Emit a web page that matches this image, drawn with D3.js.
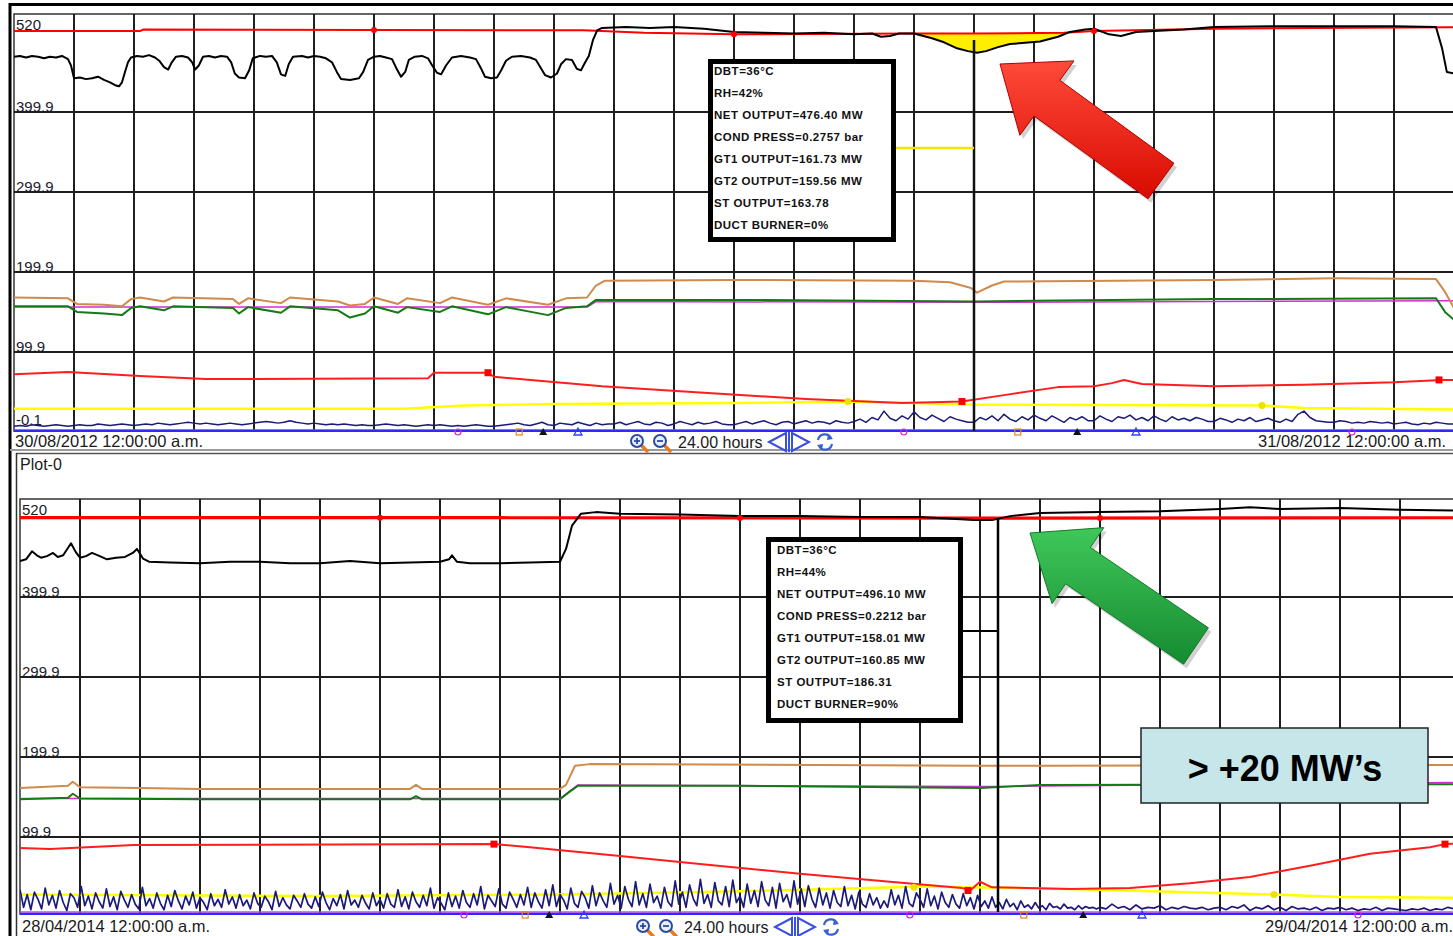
<!DOCTYPE html>
<html><head><meta charset="utf-8">
<script src="https://cdn.jsdelivr.net/npm/d3@7"></script>
<style>body{margin:0;background:#fff;overflow:hidden}svg{display:block}</style>
</head><body>
<svg id="c" width="1453" height="936"></svg>
<script>
// ---------------- DATA ----------------
const yTickValues = [-0.1, 99.9, 199.9, 299.9, 399.9, 520];
const yTickLabels = ["-0.1", "99.9", "199.9", "299.9", "399.9", "520"];
const hourTicks = d3.range(0, 25);
const topDates = ["30/08/2012 12:00:00 a.m.", "31/08/2012 12:00:00 a.m."];
const bottomDates = ["28/04/2014 12:00:00 a.m.", "29/04/2014 12:00:00 a.m."];
const spanLabel = "24.00 hours";
const plotName = "Plot-0";
const infoTop = ["DBT=36°C", "RH=42%", "NET OUTPUT=476.40 MW", "COND PRESS=0.2757 bar", "GT1 OUTPUT=161.73 MW", "GT2 OUTPUT=159.56 MW", "ST OUTPUT=163.78", "DUCT BURNER=0%"];
const infoBottom = ["DBT=36°C", "RH=44%", "NET OUTPUT=496.10 MW", "COND PRESS=0.2212 bar", "GT1 OUTPUT=158.01 MW", "GT2 OUTPUT=160.85 MW", "ST OUTPUT=186.31", "DUCT BURNER=90%"];
const calloutText = "> +20 MW\u2019s";
const topCursorHour = 16;
const bottomCursorHour = 16.3;

// top panel series [hour, value]
const topBlack = [[0,469],[0.1,470],[0.2,468],[0.3,470],[0.4,469],[0.5,467],[0.6,469],[0.7,468],[0.8,470],[0.9,466],[0.95,458],[1.0,442],[1.1,443],[1.2,441],[1.3,442],[1.4,444],[1.5,440],[1.6,437],[1.7,433],[1.75,432],[1.8,437],[1.85,450],[1.9,462],[1.95,468],[2.05,470],[2.15,469],[2.25,471],[2.35,468],[2.42,464],[2.5,456],[2.57,453],[2.63,462],[2.7,469],[2.8,470],[2.9,468],[2.97,462],[3.02,453],[3.08,458],[3.15,469],[3.25,470],[3.35,468],[3.45,470],[3.55,469],[3.62,462],[3.68,448],[3.75,443],[3.85,442],[3.92,452],[3.98,467],[4.1,470],[4.2,469],[4.3,470],[4.38,462],[4.45,447],[4.52,445],[4.58,460],[4.65,469],[4.8,470],[4.9,468],[5.0,470],[5.1,469],[5.2,467],[5.3,462],[5.38,450],[5.45,441],[5.6,440],[5.75,442],[5.82,450],[5.9,465],[6.0,469],[6.1,470],[6.2,468],[6.3,466],[6.37,455],[6.45,444],[6.52,450],[6.58,465],[6.68,469],[6.8,470],[6.9,467],[6.97,458],[7.05,449],[7.12,447],[7.2,458],[7.3,468],[7.45,470],[7.6,468],[7.7,466],[7.78,455],[7.85,444],[7.95,442],[8.05,443],[8.12,452],[8.2,464],[8.3,469],[8.45,470],[8.6,468],[8.7,465],[8.78,455],[8.85,446],[8.95,443],[9.05,448],[9.12,460],[9.2,466],[9.3,465],[9.38,454],[9.45,452],[9.52,462],[9.58,470],[9.65,490],[9.72,502],[9.8,505],[10.2,506],[10.6,505],[11,506],[11.5,504],[12,500],[12.5,499],[13,498],[13.5,499],[14,497],[14.3,498],[14.45,494],[14.6,495],[14.75,498],[15.0,498],[15.3,492],[15.5,487],[15.7,480],[15.9,476],[16.05,474],[16.2,476],[16.4,481],[16.6,485],[16.8,486],[17.1,488],[17.4,494],[17.6,500],[17.85,503],[18.0,504],[18.25,497],[18.45,495],[18.7,500],[19.0,501],[19.5,503],[20,506],[21,507],[22,507],[23,507],[23.7,506],[23.8,480],[23.88,450],[24,448]];
const topRed = [[0,501],[2.1,501],[2.15,503],[9.5,502],[10.5,499],[12,497],[15,498],[16,498],[17.5,499],[18,501],[20,504],[24,506]];
const topOrange = [[0,168],[0.9,167],[1.05,160],[1.5,159],[1.8,157],[1.95,166],[2.1,168],[2.5,163],[2.65,168],[3.65,166],[3.75,160],[3.9,167],[4.45,161],[4.6,168],[5.4,163],[5.6,158],[5.85,160],[6.0,168],[6.4,160],[6.55,167],[7.1,161],[7.3,168],[7.9,159],[8.2,167],[8.9,159],[9.2,167],[9.55,168],[9.7,183],[9.85,189],[12,190],[15,189],[15.6,187],[15.95,180],[16.05,174],[16.3,183],[16.5,188],[20,190],[22,192],[23.7,191],[23.85,175],[24,155]];
const topGreen = [[0,157],[0.9,157],[1.05,150],[1.5,148],[1.8,146],[1.95,155],[2.1,157],[2.5,152],[2.65,157],[3.65,155],[3.75,148],[3.9,156],[4.45,149],[4.6,157],[5.4,152],[5.6,143],[5.85,148],[6.0,157],[6.4,149],[6.55,156],[7.1,150],[7.3,157],[7.9,147],[8.2,156],[8.9,146],[9.2,155],[9.55,157],[9.7,165],[12,165],[16,163],[17,164],[20,166],[23.7,167],[23.85,150],[24,140]];
const topMagenta = [[0,156],[9.55,156],[9.7,163],[16,162],[24,164]];
const topRedLow = [[0,72],[0.9,75],[2.1,70],[3.2,66],[6.9,67],[7.0,74],[7.9,74],[8.0,69],[9.8,57],[11.5,49],[13.2,41],[14.8,36],[15.8,38],[16.5,46],[17.4,56],[18.0,57],[18.3,61],[18.5,65],[18.8,60],[20,57],[21.5,59],[23,62],[23.8,65],[24,65]];
const topYellow = [[0,29],[6.5,29],[7.5,33],[9,35],[12,36],[13.9,38],[15,36],[16,34],[20.8,33],[21.5,30],[24,28]];
const topNavy = [7,8,7,9,8,7,8,9,8,7,8,9,8,8,10,9,8,9,10,9,
 8,9,10,9,11,10,9,10,11,12,11,10,11,10,9,10,11,10,9,10,
 11,12,13,12,11,12,14,12,11,10,11,10,9,10,9,10,9,8,9,8,
 8,9,10,9,8,9,8,7,8,9,8,9,8,7,8,7,8,9,8,7,
 7,8,9,10,11,9,8,10,12,9,8,11,10,9,12,10,8,11,9,10,
 10,12,9,11,13,10,9,12,11,8,10,13,11,9,12,10,11,13,10,9,
 9,11,13,10,12,14,11,9,12,13,10,12,14,11,13,12,10,14,12,11,
 13,16,12,18,15,26,17,14,20,16,25,18,15,21,17,13,19,16,14,12,
 12,18,15,20,14,22,16,13,19,15,21,17,14,20,16,12,18,15,19,14,
 14,20,16,13,19,17,21,15,18,14,20,16,13,19,15,17,14,18,16,13,
 13,17,15,12,16,14,18,13,15,17,14,12,16,13,22,26,18,14,13,12,
 12,14,13,11,12,11,13,12,11,12,10,11,12,10,9,11,10,12,11,10,10];
const topNavyHours = [0, 24];
const topBlue = [[0,1],[24,1]];
const topPink = [[0,2.5],[24,2.5]];

// bottom panel series
const botBlack = [[0,445],[0.1,447],[0.2,457],[0.28,452],[0.35,449],[0.45,451],[0.55,455],[0.63,450],[0.72,452],[0.85,467],[0.93,456],[1.0,449],[1.1,451],[1.2,455],[1.3,452],[1.45,447],[1.6,449],[1.75,450],[1.88,455],[1.95,460],[2.05,448],[2.15,444],[2.5,443],[3,442],[3.5,444],[4,444],[4.5,442],[5,442],[5.5,445],[6,442],[6.5,443],[7,444],[7.15,447],[7.2,452],[7.28,444],[7.5,442],[8,442],[8.5,443],[9,444],[9.1,460],[9.2,489],[9.35,504],[9.6,506],[10,504],[11,503],[12,501],[13,501],[14,500],[15,500],[15.9,496],[16.2,496],[16.5,501],[17,505],[18,506],[19,507],[20,510],[20.5,512],[21,510],[22,511],[23,509],[24,508]];
const botRed = [[0,499],[8,499],[16,498.5],[24,499]];
const botOrange = [[0,161],[0.8,164],[0.88,169],[1.0,162],[2,161],[3,160],[6.5,160],[6.6,165],[6.7,160],[9.0,160],[9.1,165],[9.25,189],[9.5,191],[16,189],[17,189],[24,190]];
const botGreen = [[0,147],[0.8,149],[0.88,154],[1.0,148],[3,147],[6.5,147],[6.6,151],[6.7,147],[9.0,147],[9.15,156],[9.3,164],[12,164],[16,161],[17,165],[24,166]];
const botMagenta = [[0,148],[9.0,148],[9.3,165],[16,163],[24,168]];
const botRedLow = [[0,86],[0.5,85],[1.9,90],[7.9,91],[8.5,87],[10,76],[11.5,65],[13,54],[14.5,44],[15.7,36],[15.85,34],[16.0,44],[16.2,37],[17.5,35],[18.5,36],[19.5,42],[20.5,50],[21.5,64],[22.5,79],[23.5,87],[23.75,91],[24,92]];
const botYellow = [[0,28],[5,26],[9,28],[12,32],[14.6,37],[15,38],[17.5,35],[20.9,28],[22,25],[24,24]];
const botNavyDense = [34,12,28,9,31,22,10,36,15,27,11,33,18,8,29,24,12,38,14,26,
 10,30,19,11,35,13,25,9,32,21,12,28,16,10,37,14,23,11,30,17,
 9,27,13,33,20,10,26,15,31,11,24,18,9,29,14,22,12,34,16,25,
 11,28,14,21,10,30,17,12,26,19,9,32,13,24,15,10,27,20,12,29,
 16,11,25,13,31,18,9,23,14,28,10,33,15,21,12,27,17,10,30,14,
 22,11,29,16,12,34,13,25,10,31,19,12,27,14,36,11,24,17,9,30,
 13,26,11,33,18,12,29,15,38,10,27,20,13,35,16,11,31,22,12,28,
 15,37,12,30,19,11,34,14,40,13,28,21,10,36,17,12,32,24,11,39,
 14,30,20,12,42,16,27,11,38,22,13,44,15,29,12,41,18,26,11,37,
 19,13,45,16,31,12,40,23,14,47,17,28,12,43,20,15,38,13,46,18,
 26,12,41,17,33,13,44,21,14,37,11,42,19,28,12,45,16,35,13,39,
 22,12,36,15,30,11,33,18,13,38,14,27,10,31,16,12,29,15,24,11,
 20,12,34,15,27,11,38,17,13,30,22,12,35,14,26,10,31,18,12,28,
 16,11,29,14,24,10,27,13,20,11,25,12,18,10,22,13,17,9,20,12,
 15,10,18,11,14,9,17,12,13,10,16,11,12,9,14,10,13,11,12,10,12];
const botNavyDenseHours = [0, 18];
const botNavyCalm = [14,10,16,11,13,9,15,10,12,11,14,9,12,10,13,11,10,12,9,11,
 12,9,13,11,15,8,12,10,14,9,12,8,13,10,11,9,12,8,11,10,
 12,9,11,8,10,9,12,8,11,10,9,8,10,9,11,8,10,9,12,10,10];
const botNavyCalmHours = [18, 24];
const botBlue = [[0,3.5],[24,3.5]];
const botPink = [[0,6],[24,6]];

// marker positions
const redDotHours = [6, 12, 18];
const redLowSquareTop = [[7.9,74],[15.8,38],[23.75,65]];
const redLowSquareBot = [[7.9,91],[15.8,33],[23.75,91]];
const yellowDotTop = [[13.9,38],[20.8,33]];
const yellowDotBot = [[14.9,37],[20.9,28]];
const axisOrange = [8.42, 16.73];
const axisBlack = [8.82, 17.72];
const axisBlue = [9.4, 18.7];
const axisMagenta = [7.4, 14.83, 22.3];

// ---------------- DRAW ----------------
const svg = d3.select("#c");
const defs = svg.append("defs");

function gradient(id, c1, c2) {
  const g = defs.append("linearGradient").attr("id", id).attr("x1", "0").attr("y1", "0").attr("x2", "0").attr("y2", "1");
  g.append("stop").attr("offset", "0").attr("stop-color", c1);
  g.append("stop").attr("offset", "1").attr("stop-color", c2);
}
gradient("redG", "#ff4a3a", "#d80a00");
gradient("greenG", "#3fc85a", "#168a30");

// frame
svg.append("line").attr("x1", 10).attr("x2", 10).attr("y1", 3).attr("y2", 936).attr("stroke", "#000").attr("stroke-width", 3);
svg.append("line").attr("x1", 9).attr("x2", 1453).attr("y1", 4.5).attr("y2", 4.5).attr("stroke", "#000").attr("stroke-width", 3);
svg.append("line").attr("x1", 10).attr("x2", 1453).attr("y1", 450).attr("y2", 450).attr("stroke", "#9a9a9a").attr("stroke-width", 2);
svg.append("line").attr("x1", 16).attr("x2", 1453).attr("y1", 453.5).attr("y2", 453.5).attr("stroke", "#555").attr("stroke-width", 1.5);
svg.append("line").attr("x1", 16.5).attr("x2", 16.5).attr("y1", 453).attr("y2", 936).attr("stroke", "#333").attr("stroke-width", 1.5);

const uniform = (vals, h) => vals.map((v, i) => [h[0] + i * (h[1] - h[0]) / (vals.length - 1), v]);

const panels = [
  {id: "top", x0: 14, yBottom: 432, plotTop: 14, plotBottom: 431, labelX: 16,
   black: topBlack, red: topRed, redW: 2, orange: topOrange, green: topGreen, magenta: topMagenta,
   redLow: topRedLow, yellow: topYellow, navy: [uniform(topNavy, topNavyHours)], navyW: 1.5, blue: topBlue, pink: topPink,
   squares: redLowSquareTop, ydots: yellowDotTop, dates: topDates, dateY: 447, dateX: 15, rightDateX: 1258,
   toolX: 630, toolY: 442, showMinus: true, fill: true},
  {id: "bot", x0: 20, yBottom: 917, plotTop: 499, plotBottom: 914, labelX: 22,
   black: botBlack, red: botRed, redW: 3.2, orange: botOrange, green: botGreen, magenta: botMagenta,
   redLow: botRedLow, yellow: botYellow, navy: [uniform(botNavyDense, botNavyDenseHours).concat(uniform(botNavyCalm, botNavyCalmHours).slice(1))], navyW: 1.7, blue: botBlue, pink: botPink,
   squares: redLowSquareBot, ydots: yellowDotBot, dates: bottomDates, dateY: 932, dateX: 22, rightDateX: 1265,
   toolX: 636, toolY: 927, showMinus: false, fill: false}
];

const textFont = "'Liberation Sans', Arial, sans-serif";

panels.forEach(p => {
  const x = d3.scaleLinear().domain([0, 24]).range([p.x0, p.x0 + 1440]);
  const y = d3.scaleLinear().domain([-0.1, 520]).range([p.yBottom, p.yBottom - 520.1 * 0.8]);
  p.x = x; p.y = y;
  const g = svg.append("g");
  g.append("rect").attr("x", p.x0).attr("y", p.plotTop).attr("width", 1460).attr("height", p.plotBottom - p.plotTop)
    .attr("fill", "#fff").attr("stroke", "#333").attr("stroke-width", 1.5);

  defs.append("clipPath").attr("id", "clip-" + p.id).append("rect")
    .attr("x", p.x0).attr("y", p.plotTop).attr("width", 1440).attr("height", p.plotBottom - p.plotTop + 1);

  // grid
  const grid = g.append("g");
  grid.selectAll("line.v").data(hourTicks.slice(1)).join("line")
    .attr("x1", d => x(d)).attr("x2", d => x(d)).attr("y1", p.plotTop).attr("y2", p.plotBottom)
    .attr("stroke", "#1e1e1e").attr("stroke-width", 2);
  grid.selectAll("line.h").data(yTickValues.slice(1, 5)).join("line")
    .attr("x1", p.x0).attr("x2", 1453).attr("y1", d => y(d)).attr("y2", d => y(d))
    .attr("stroke", "#1e1e1e").attr("stroke-width", 1.8);

  // y labels
  yTickValues.forEach((v, i) => {
    if (v === -0.1 && !p.showMinus) return;
    let by = y(v) - 0.5;
    if (v === 520) by = y(v) + 14;
    if (v === -0.1) by = y(v) - 7;
    g.append("text").attr("x", p.labelX).attr("y", by).text(yTickLabels[i])
      .attr("font-family", textFont).attr("font-size", 15).attr("fill", "#1a1a2a");
  });

  const data = g.append("g").attr("clip-path", `url(#clip-${p.id})`);
  const line = d3.line().x(d => x(d[0])).y(d => y(d[1]));

  const redAt = d3.scaleLinear().domain(p.red.map(d => d[0])).range(p.red.map(d => d[1]));
  if (p.fill) {
    const seg = p.black.filter(d => d[0] >= 14.9 && d[0] <= 17.7);
    data.append("path").datum(seg)
      .attr("d", d3.area().x(d => x(d[0])).y0(d => y(redAt(d[0]))).y1(d => y(Math.min(d[1], redAt(d[0])))))
      .attr("fill", "#ffee00");
  }

  const draw = (pts, color, w) => data.append("path").datum(pts).attr("d", line)
    .attr("fill", "none").attr("stroke", color).attr("stroke-width", w).attr("stroke-linejoin", "round");

  draw(p.pink, "#e040e0", 1.5);
  draw(p.blue, "#2b2bff", 2.5);
  draw(p.yellow, "#ffff00", 2.5);
  p.navy.forEach(n => draw(n, "#1a1a78", p.navyW));
  draw(p.redLow, "#ff1e1e", 2);
  draw(p.magenta, "#d030d0", 1.5);
  draw(p.green, "#147a14", 2);
  draw(p.orange, "#cf8a4c", 2);
  draw(p.red, "#ff0000", p.redW);
  draw(p.black, "#000", 2);

  // line markers
  data.selectAll("circle.rd").data(redDotHours).join("circle")
    .attr("cx", d => x(d)).attr("cy", d => y(redAt(d))).attr("r", 3).attr("fill", "#ff0000");
  data.selectAll("rect.sq").data(p.squares).join("rect")
    .attr("x", d => x(d[0]) - 3.5).attr("y", d => y(d[1]) - 3.5).attr("width", 7).attr("height", 7).attr("fill", "#ff0000");
  data.selectAll("circle.yd").data(p.ydots).join("circle")
    .attr("cx", d => x(d[0])).attr("cy", d => y(d[1])).attr("r", 3.5).attr("fill", "#f0e000");

  // axis markers
  const my = p.plotBottom + 1;
  const mk = g.append("g");
  axisOrange.forEach(h => mk.append("rect").attr("x", x(h) - 3).attr("y", my - 3).attr("width", 6).attr("height", 6)
    .attr("fill", "none").attr("stroke", "#f08020").attr("stroke-width", 1.2));
  axisBlack.forEach(h => mk.append("path").attr("d", `M${x(h) - 4},${my + 3}L${x(h) + 4},${my + 3}L${x(h)},${my - 4}Z`).attr("fill", "#111"));
  axisBlue.forEach(h => mk.append("path").attr("d", `M${x(h) - 4},${my + 3}L${x(h) + 4},${my + 3}L${x(h)},${my - 4}Z`)
    .attr("fill", "none").attr("stroke", "#3040ff").attr("stroke-width", 1.3));
  axisMagenta.forEach(h => mk.append("circle").attr("cx", x(h)).attr("cy", my).attr("r", 3)
    .attr("fill", "none").attr("stroke", "#e020e0").attr("stroke-width", 1.2));

  // dates
  g.append("text").attr("x", p.dateX).attr("y", p.dateY).text(p.dates[0])
    .attr("font-family", textFont).attr("font-size", 16.5).attr("fill", "#1a1a1a");
  g.append("text").attr("x", p.rightDateX).attr("y", p.dateY).text(p.dates[1])
    .attr("font-family", textFont).attr("font-size", 16.5).attr("fill", "#1a1a1a");

  // toolbar
  const t = g.append("g").attr("transform", `translate(${p.toolX},${p.toolY})`);
  [0, 23].forEach((dx, k) => {
    const m = t.append("g").attr("transform", `translate(${dx},0)`);
    m.append("line").attr("x1", 10).attr("y1", 2).attr("x2", 17).attr("y2", 9).attr("stroke", "#e87a20").attr("stroke-width", 3.5).attr("stroke-linecap", "round");
    m.append("circle").attr("cx", 7).attr("cy", -1).attr("r", 6).attr("fill", "#e6eeff").attr("stroke", "#2c4aa0").attr("stroke-width", 2);
    m.append("line").attr("x1", 4).attr("x2", 10).attr("y1", -1).attr("y2", -1).attr("stroke", "#2c4aa0").attr("stroke-width", 1.8);
    if (k === 0) m.append("line").attr("x1", 7).attr("x2", 7).attr("y1", -4).attr("y2", 2).attr("stroke", "#2c4aa0").attr("stroke-width", 1.8);
  });
  t.append("text").attr("x", 48).attr("y", 6).text(spanLabel).attr("font-family", textFont).attr("font-size", 16).attr("fill", "#1a1a1a");
  t.append("path").attr("d", "M139,0L156,-9L156,9Z").attr("fill", "#fff").attr("stroke", "#3a50e0").attr("stroke-width", 2);
  t.append("line").attr("x1", 159).attr("x2", 159).attr("y1", -10).attr("y2", 10).attr("stroke", "#3a50e0").attr("stroke-width", 2);
  t.append("path").attr("d", "M162,-9L179,0L162,9Z").attr("fill", "#fff").attr("stroke", "#3a50e0").attr("stroke-width", 2);
  const r = t.append("g").attr("transform", "translate(195,0)");
  r.append("path").attr("d", "M-7,-2A7,7 0 0 1 6,-4").attr("fill", "none").attr("stroke", "#3a60d0").attr("stroke-width", 2.2);
  r.append("path").attr("d", "M7,2A7,7 0 0 1 -6,4").attr("fill", "none").attr("stroke", "#3a60d0").attr("stroke-width", 2.2);
  r.append("path").attr("d", "M3,-8L8,-3L2,-2Z").attr("fill", "#3a60d0");
  r.append("path").attr("d", "M-3,8L-8,3L-2,2Z").attr("fill", "#3a60d0");
});

// Plot-0 label
svg.append("text").attr("x", 20).attr("y", 470).text(plotName).attr("font-family", textFont).attr("font-size", 16).attr("fill", "#1a1a1a");

// cursor lines and leaders
const P0 = panels[0], P1 = panels[1];
svg.append("line").attr("x1", P0.x(topCursorHour)).attr("x2", P0.x(topCursorHour)).attr("y1", 40).attr("y2", P0.plotBottom)
  .attr("stroke", "#111").attr("stroke-width", 2.5);
svg.append("line").attr("x1", 893).attr("x2", P0.x(topCursorHour)).attr("y1", 148).attr("y2", 148).attr("stroke", "#f2e600").attr("stroke-width", 2.5);
svg.append("line").attr("x1", P1.x(bottomCursorHour)).attr("x2", P1.x(bottomCursorHour)).attr("y1", 519).attr("y2", 912)
  .attr("stroke", "#000").attr("stroke-width", 2.5);
svg.append("line").attr("x1", 962).attr("x2", P1.x(bottomCursorHour)).attr("y1", 631).attr("y2", 631).attr("stroke", "#000").attr("stroke-width", 2.2);

// info boxes
function infoBox(bx, by, bw, bh, lines, tx, ty0) {
  const g = svg.append("g");
  g.append("rect").attr("x", bx).attr("y", by).attr("width", bw).attr("height", bh).attr("fill", "#fff").attr("stroke", "#000").attr("stroke-width", 5);
  lines.forEach((s, i) => g.append("text").attr("x", tx).attr("y", ty0 + i * 22).text(s)
    .attr("font-family", "'Liberation Sans', Arial, sans-serif").attr("font-weight", "bold").attr("font-size", 11.5)
    .attr("letter-spacing", 0.5).attr("fill", "#111"));
}
infoBox(710.5, 61.5, 183, 178, infoTop, 714, 75);
infoBox(768.5, 539.5, 192, 181, infoBottom, 777, 554);

// arrows
function arrow(P, T, headLen, headHalf, shaftHalf, fill, stroke) {
  const dx = P[0] - T[0], dy = P[1] - T[1], L = Math.hypot(dx, dy);
  const u = [dx / L, dy / L], n = [-u[1], u[0]];
  const B = [P[0] - u[0] * headLen, P[1] - u[1] * headLen];
  const pt = (c, s) => [c[0] + n[0] * s, c[1] + n[1] * s];
  const pts = [P, pt(B, headHalf), pt(B, shaftHalf), pt(T, shaftHalf), pt(T, -shaftHalf), pt(B, -shaftHalf), pt(B, -headHalf)];
  svg.append("polygon").attr("points", pts.map(q => [q[0] + 3, q[1] + 4].join(",")).join(" ")).attr("fill", "rgba(0,0,0,0.18)");
  svg.append("polygon").attr("points", pts.map(q => q.join(",")).join(" ")).attr("fill", fill).attr("stroke", stroke).attr("stroke-width", 1);
}
arrow([1000, 64], [1161, 181], 58, 46, 22, "url(#redG)", "#b00000");
arrow([1030, 533], [1196, 646], 58, 46, 22, "url(#greenG)", "#127a28");

// callout
svg.append("rect").attr("x", 1141).attr("y", 728).attr("width", 287).attr("height", 75).attr("fill", "#c6e6ea").attr("stroke", "#222").attr("stroke-width", 1.5);
svg.append("text").attr("x", 1285).attr("y", 781).attr("text-anchor", "middle").text(calloutText)
  .attr("font-family", textFont).attr("font-weight", "bold").attr("font-size", 36).attr("fill", "#000");
</script>
</body></html>
